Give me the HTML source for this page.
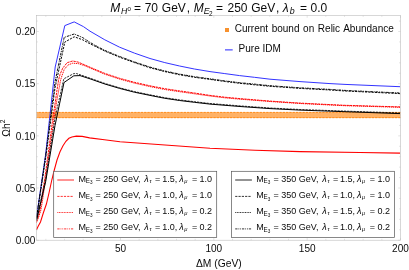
<!DOCTYPE html>
<html><head><meta charset="utf-8"><title>plot</title>
<style>
html,body{margin:0;padding:0;background:#fff;}
body{width:409px;height:270px;overflow:hidden;font-family:"Liberation Sans",sans-serif;}
svg{display:block;will-change:transform;}
text{font-family:"Liberation Sans",sans-serif;fill:#0a0a0a;}
.tk{font-size:10.05px;}
.lb{font-size:10.3px;}
.ti{font-size:12px;}
.lg{font-size:10px;}
.lg2{font-size:9.4px;}
</style></head><body>
<svg xmlns="http://www.w3.org/2000/svg" width="409" height="270" viewBox="0 0 409 270">
<rect x="36.5" y="112.2" width="364.0" height="5.8" fill="#FFB266"/>
<line x1="36.5" y1="112.4" x2="400.5" y2="112.4" stroke="#FF8000" stroke-width="0.8" stroke-dasharray="2.25,1.05" stroke-dashoffset="1.26"/>
<line x1="36.5" y1="117.7" x2="400.5" y2="117.7" stroke="#FF8000" stroke-width="0.8" stroke-dasharray="2.25,1.05" stroke-dashoffset="1.26"/>
<polyline points="36.5,217.5 45.7,154.0 55.2,67.0 64.8,25.6 74.2,21.9 83.4,26.6 90.0,31.2 104.8,39.8 119.6,47.2 134.4,53.1 150.0,58.5 164.8,62.6 179.6,66.0 194.4,69.0 210.0,71.6 224.8,73.6 239.6,75.6 254.4,77.3 270.0,79.2 300.0,81.6 330.0,83.6 345.0,84.4 400.0,86.7" fill="none" stroke="#2C2CFF" stroke-width="0.97"/>
<polyline points="36.5,217.8 45.7,155.0 55.0,82.0 64.2,37.4 74.2,34.0 82.7,37.6 90.0,42.4 96.0,45.8 104.8,50.4 119.6,56.5 134.4,61.9 150.0,67.1 164.8,71.0 179.6,74.1 194.4,76.7 210.0,78.8 224.8,80.9 239.6,82.7 254.4,84.1 270.0,85.7 300.0,87.8 330.0,89.4 345.0,90.4 400.0,93.0" fill="none" stroke="#000" stroke-width="0.95" stroke-dasharray="2.6,0.9,0.9,0.9"/>
<polyline points="36.5,218.6 45.7,158.0 55.0,88.0 64.8,42.1 74.2,36.8 82.7,39.8 90.0,43.8 96.0,46.7 104.8,51.1 119.6,57.2 134.4,62.6 150.0,67.8 164.8,71.6 179.6,74.8 194.4,77.3 210.0,79.4 224.8,81.5 239.6,83.3 254.4,84.8 270.0,86.3 300.0,88.4 330.0,90.0 345.0,91.0 400.0,93.6" fill="none" stroke="#000" stroke-width="0.95" stroke-dasharray="2.2,1.1"/>
<polyline points="36.5,221.6 38.2,217.0 40.0,210.0 41.6,200.0 43.0,190.0 44.6,180.0 47.3,160.0 50.0,140.0 52.6,120.0 55.0,104.0 57.0,90.0 58.6,80.0 60.0,74.5 62.7,68.2 67.1,62.7 72.7,61.0 78.2,62.1 90.0,67.2 104.8,73.4 119.6,78.3 134.4,82.3 150.0,85.8 164.8,88.7 179.6,90.9 194.4,93.0 210.0,95.4 224.8,97.2 240.0,98.6 270.0,101.1 300.0,103.1 330.0,104.6 345.0,105.3 400.0,106.9" fill="none" stroke="#FF0000" stroke-width="0.95" stroke-dasharray="2.4,0.8"/>
<polyline points="36.5,222.6 38.7,217.0 40.9,210.0 42.6,200.0 44.0,190.0 45.5,180.0 48.2,160.0 51.0,140.0 53.8,120.0 56.9,100.0 58.8,90.0 60.6,80.0 62.2,75.0 64.3,69.3 68.2,64.9 72.7,63.2 78.2,63.6 85.0,65.8 90.0,68.0 104.8,74.2 119.6,79.1 134.4,83.1 150.0,86.6 164.8,89.5 179.6,91.7 194.4,93.8 210.0,96.0 224.8,97.8 240.0,99.2 270.0,101.5 300.0,103.5 330.0,105.0 345.0,105.7 400.0,107.3" fill="none" stroke="#FF0000" stroke-width="0.95" stroke-dasharray="1.3,0.7"/>
<polyline points="36.5,219.5 45.7,178.5 55.0,118.0 63.8,78.8 73.8,73.6 76.6,73.6 82.0,75.4 90.0,78.2 104.8,83.4 119.6,87.8 134.4,91.6 150.0,94.8 164.8,97.7 179.6,99.9 194.4,101.7 210.0,103.5 240.0,105.9 270.0,108.0 300.0,109.5 345.0,111.1 400.0,113.0" fill="none" stroke="#000" stroke-width="0.8" stroke-dasharray="2.2,1"/>
<polyline points="36.5,220.5 45.7,181.5 55.0,125.5 64.0,82.5 73.8,75.8 80.0,75.6 90.0,78.8 104.8,84.0 119.6,88.4 134.4,92.2 150.0,95.4 164.8,98.3 179.6,100.5 194.4,102.3 210.0,104.1 240.0,106.5 270.0,108.6 300.0,110.1 345.0,111.7 400.0,113.6" fill="none" stroke="#000" stroke-width="1"/>
<polyline points="36.5,229.8 38.3,226.0 40.5,222.0 43.3,213.0 46.4,204.0 49.0,193.0 51.8,180.0 54.3,170.0 57.0,160.0 60.0,151.7 63.0,145.7 65.9,141.3 68.9,138.3 71.9,136.9 76.3,136.1 82.2,136.4 89.6,137.9 104.4,139.8 120.0,141.7 165.0,145.0 210.0,148.3 255.0,150.3 300.0,151.6 360.0,152.5 400.0,153.1" fill="none" stroke="#FF0000" stroke-width="1.08"/>
<rect x="36.5" y="15.5" width="364.0" height="224.7" fill="none" stroke="#bcbcbc" stroke-width="0.6"/>
<path d="M45.83,240.2v-1.4M45.83,15.5v1.4M64.50,240.2v-1.4M64.50,15.5v1.4M83.17,240.2v-1.4M83.17,15.5v1.4M101.83,240.2v-1.4M101.83,15.5v1.4M120.50,240.2v-2.3M120.50,15.5v2.3M139.17,240.2v-1.4M139.17,15.5v1.4M157.83,240.2v-1.4M157.83,15.5v1.4M176.50,240.2v-1.4M176.50,15.5v1.4M195.17,240.2v-1.4M195.17,15.5v1.4M213.84,240.2v-2.3M213.84,15.5v2.3M232.50,240.2v-1.4M232.50,15.5v1.4M251.17,240.2v-1.4M251.17,15.5v1.4M269.84,240.2v-1.4M269.84,15.5v1.4M288.50,240.2v-1.4M288.50,15.5v1.4M307.17,240.2v-2.3M307.17,15.5v2.3M325.84,240.2v-1.4M325.84,15.5v1.4M344.50,240.2v-1.4M344.50,15.5v1.4M363.17,240.2v-1.4M363.17,15.5v1.4M381.84,240.2v-1.4M381.84,15.5v1.4M400.50,240.2v-2.3M400.50,15.5v2.3M36.5,240.20h2.3M400.5,240.20h-2.3M36.5,229.76h1.4M400.5,229.76h-1.4M36.5,219.33h1.4M400.5,219.33h-1.4M36.5,208.89h1.4M400.5,208.89h-1.4M36.5,198.46h1.4M400.5,198.46h-1.4M36.5,188.02h2.3M400.5,188.02h-2.3M36.5,177.59h1.4M400.5,177.59h-1.4M36.5,167.15h1.4M400.5,167.15h-1.4M36.5,156.72h1.4M400.5,156.72h-1.4M36.5,146.28h1.4M400.5,146.28h-1.4M36.5,135.85h2.3M400.5,135.85h-2.3M36.5,125.41h1.4M400.5,125.41h-1.4M36.5,114.98h1.4M400.5,114.98h-1.4M36.5,104.54h1.4M400.5,104.54h-1.4M36.5,94.11h1.4M400.5,94.11h-1.4M36.5,83.67h2.3M400.5,83.67h-2.3M36.5,73.24h1.4M400.5,73.24h-1.4M36.5,62.80h1.4M400.5,62.80h-1.4M36.5,52.37h1.4M400.5,52.37h-1.4M36.5,41.93h1.4M400.5,41.93h-1.4M36.5,31.50h2.3M400.5,31.50h-2.3M36.5,21.06h1.4M400.5,21.06h-1.4" stroke="#bbb" stroke-width="0.4" fill="none"/>
<text x="120.5" y="251.5" text-anchor="middle" class="tk">50</text>
<text x="213.8" y="251.5" text-anchor="middle" class="tk">100</text>
<text x="307.2" y="251.5" text-anchor="middle" class="tk">150</text>
<text x="400.5" y="251.5" text-anchor="middle" class="tk">200</text>
<text x="35.4" y="243.8" text-anchor="end" class="tk">0.00</text>
<text x="35.4" y="191.7" text-anchor="end" class="tk">0.05</text>
<text x="35.4" y="139.5" text-anchor="end" class="tk">0.10</text>
<text x="35.4" y="87.3" text-anchor="end" class="tk">0.15</text>
<text x="35.4" y="35.1" text-anchor="end" class="tk">0.20</text>
<text x="218.8" y="267.4" text-anchor="middle" class="lb">ΔM (GeV)</text>
<text transform="translate(9.6,128.2) rotate(-90)" text-anchor="middle" class="lb">Ωh<tspan dy="-4.2" font-size="6.8">2</tspan></text>
<text x="110.3" y="11.5" font-size="12" font-style="italic">M</text>
<text x="120.9" y="13.7" font-size="8.8" font-style="italic">H</text>
<text x="127.4" y="11.0" font-size="6.1">0</text>
<text x="134.1" y="11.5" font-size="12">=</text>
<text x="144.7" y="11.5" font-size="12">70</text>
<text x="161.8" y="11.5" font-size="12">GeV</text>
<text x="186.7" y="11.5" font-size="12">,</text>
<text x="193.7" y="11.5" font-size="12" font-style="italic">M</text>
<text x="203.7" y="13.7" font-size="8.8" font-style="italic">E</text>
<text x="209.0" y="15.7" font-size="6.4">2</text>
<text x="216.0" y="11.5" font-size="12">=</text>
<text x="227.5" y="11.5" font-size="12">250</text>
<text x="251.2" y="11.5" font-size="12">GeV</text>
<text x="275.9" y="11.5" font-size="12">,</text>
<text x="282.7" y="11.5" font-size="12" font-style="italic">λ</text>
<text x="289.8" y="13.8" font-size="8.8" font-style="italic">b</text>
<text x="300.0" y="11.5" font-size="12">=</text>
<text x="310.6" y="11.5" font-size="12">0.0</text>
<rect x="225" y="28" width="4" height="4" fill="#F7912E"/>
<text x="234.7" y="31.7" class="lg" word-spacing="0.85">Current bound on Relic Abundance</text>
<line x1="225" y1="49.9" x2="232.7" y2="49.9" stroke="#2222FF" stroke-width="1"/>
<text x="238.6" y="51.5" class="lg">Pure IDM</text>
<rect x="53.7" y="171.3" width="163" height="66.3" fill="#fff" stroke="#555" stroke-width="0.7"/>
<line x1="57.3" y1="180.0" x2="74.0" y2="180.0" stroke="#FF0000" stroke-width="0.85"/>
<text x="78.45" y="181.8" font-size="9">M</text>
<text x="85.7" y="183.2" font-size="6.3">E</text>
<text x="89.9" y="184.3" font-size="4.6">3</text>
<text x="95.5" y="181.8" font-size="9">=</text>
<text x="103.3" y="181.8" font-size="9">250</text>
<text x="120.9" y="181.8" font-size="9">GeV,</text>
<text x="144.3" y="181.8" font-size="9" font-style="italic">λ</text>
<text x="149.5" y="182.8" font-size="5.8" font-style="italic">τ</text>
<text x="155.0" y="181.8" font-size="9">=</text>
<text x="162.2" y="181.8" font-size="9">1.5,</text>
<text x="179.2" y="181.8" font-size="9" font-style="italic">λ</text>
<text x="184.2" y="182.8" font-size="5.8" font-style="italic">μ</text>
<text x="191.9" y="181.8" font-size="9">=</text>
<text x="199.5" y="181.8" font-size="9">1.0</text>
<line x1="57.3" y1="196.4" x2="73.3" y2="196.4" stroke="#FF0000" stroke-width="0.8" stroke-dasharray="2.2,1.1"/>
<text x="78.45" y="197.9" font-size="9">M</text>
<text x="85.7" y="199.4" font-size="6.3">E</text>
<text x="89.9" y="200.5" font-size="4.6">3</text>
<text x="95.5" y="197.9" font-size="9">=</text>
<text x="103.3" y="197.9" font-size="9">250</text>
<text x="120.9" y="197.9" font-size="9">GeV,</text>
<text x="144.3" y="197.9" font-size="9" font-style="italic">λ</text>
<text x="149.5" y="199.0" font-size="5.8" font-style="italic">τ</text>
<text x="155.0" y="197.9" font-size="9">=</text>
<text x="162.2" y="197.9" font-size="9">1.0,</text>
<text x="179.2" y="197.9" font-size="9" font-style="italic">λ</text>
<text x="184.2" y="199.0" font-size="5.8" font-style="italic">μ</text>
<text x="191.9" y="197.9" font-size="9">=</text>
<text x="199.5" y="197.9" font-size="9">1.0</text>
<line x1="57.3" y1="212.5" x2="73.3" y2="212.5" stroke="#FF0000" stroke-width="0.8" stroke-dasharray="1,0.63"/>
<text x="78.45" y="214.1" font-size="9">M</text>
<text x="85.7" y="215.6" font-size="6.3">E</text>
<text x="89.9" y="216.7" font-size="4.6">3</text>
<text x="95.5" y="214.1" font-size="9">=</text>
<text x="103.3" y="214.1" font-size="9">250</text>
<text x="120.9" y="214.1" font-size="9">GeV,</text>
<text x="144.3" y="214.1" font-size="9" font-style="italic">λ</text>
<text x="149.5" y="215.2" font-size="5.8" font-style="italic">τ</text>
<text x="155.0" y="214.1" font-size="9">=</text>
<text x="162.2" y="214.1" font-size="9">1.5,</text>
<text x="179.2" y="214.1" font-size="9" font-style="italic">λ</text>
<text x="184.2" y="215.2" font-size="5.8" font-style="italic">μ</text>
<text x="191.9" y="214.1" font-size="9">=</text>
<text x="199.5" y="214.1" font-size="9">0.2</text>
<line x1="57.3" y1="228.9" x2="73.3" y2="228.9" stroke="#FF0000" stroke-width="0.8" stroke-dasharray="2.3,0.9,0.9,0.9,0.9,0.9"/>
<text x="78.45" y="230.2" font-size="9">M</text>
<text x="85.7" y="231.7" font-size="6.3">E</text>
<text x="89.9" y="232.8" font-size="4.6">3</text>
<text x="95.5" y="230.2" font-size="9">=</text>
<text x="103.3" y="230.2" font-size="9">250</text>
<text x="120.9" y="230.2" font-size="9">GeV,</text>
<text x="144.3" y="230.2" font-size="9" font-style="italic">λ</text>
<text x="149.5" y="231.3" font-size="5.8" font-style="italic">τ</text>
<text x="155.0" y="230.2" font-size="9">=</text>
<text x="162.2" y="230.2" font-size="9">1.0,</text>
<text x="179.2" y="230.2" font-size="9" font-style="italic">λ</text>
<text x="184.2" y="231.3" font-size="5.8" font-style="italic">μ</text>
<text x="191.9" y="230.2" font-size="9">=</text>
<text x="199.5" y="230.2" font-size="9">0.2</text>
<rect x="231.6" y="171.3" width="163" height="66.3" fill="#fff" stroke="#555" stroke-width="0.7"/>
<line x1="235.2" y1="180.0" x2="251.9" y2="180.0" stroke="#000" stroke-width="0.85"/>
<text x="256.35" y="181.8" font-size="9">M</text>
<text x="263.6" y="183.2" font-size="6.3">E</text>
<text x="267.8" y="184.3" font-size="4.6">3</text>
<text x="273.4" y="181.8" font-size="9">=</text>
<text x="281.2" y="181.8" font-size="9">350</text>
<text x="298.8" y="181.8" font-size="9">GeV,</text>
<text x="322.2" y="181.8" font-size="9" font-style="italic">λ</text>
<text x="327.4" y="182.8" font-size="5.8" font-style="italic">τ</text>
<text x="332.9" y="181.8" font-size="9">=</text>
<text x="340.1" y="181.8" font-size="9">1.5,</text>
<text x="357.1" y="181.8" font-size="9" font-style="italic">λ</text>
<text x="362.1" y="182.8" font-size="5.8" font-style="italic">μ</text>
<text x="369.8" y="181.8" font-size="9">=</text>
<text x="377.4" y="181.8" font-size="9">1.0</text>
<line x1="235.2" y1="196.4" x2="251.2" y2="196.4" stroke="#000" stroke-width="0.8" stroke-dasharray="2.2,1.1"/>
<text x="256.35" y="197.9" font-size="9">M</text>
<text x="263.6" y="199.4" font-size="6.3">E</text>
<text x="267.8" y="200.5" font-size="4.6">3</text>
<text x="273.4" y="197.9" font-size="9">=</text>
<text x="281.2" y="197.9" font-size="9">350</text>
<text x="298.8" y="197.9" font-size="9">GeV,</text>
<text x="322.2" y="197.9" font-size="9" font-style="italic">λ</text>
<text x="327.4" y="199.0" font-size="5.8" font-style="italic">τ</text>
<text x="332.9" y="197.9" font-size="9">=</text>
<text x="340.1" y="197.9" font-size="9">1.0,</text>
<text x="357.1" y="197.9" font-size="9" font-style="italic">λ</text>
<text x="362.1" y="199.0" font-size="5.8" font-style="italic">μ</text>
<text x="369.8" y="197.9" font-size="9">=</text>
<text x="377.4" y="197.9" font-size="9">1.0</text>
<line x1="235.2" y1="212.5" x2="251.2" y2="212.5" stroke="#000" stroke-width="0.8" stroke-dasharray="1,0.63"/>
<text x="256.35" y="214.1" font-size="9">M</text>
<text x="263.6" y="215.6" font-size="6.3">E</text>
<text x="267.8" y="216.7" font-size="4.6">3</text>
<text x="273.4" y="214.1" font-size="9">=</text>
<text x="281.2" y="214.1" font-size="9">350</text>
<text x="298.8" y="214.1" font-size="9">GeV,</text>
<text x="322.2" y="214.1" font-size="9" font-style="italic">λ</text>
<text x="327.4" y="215.2" font-size="5.8" font-style="italic">τ</text>
<text x="332.9" y="214.1" font-size="9">=</text>
<text x="340.1" y="214.1" font-size="9">1.5,</text>
<text x="357.1" y="214.1" font-size="9" font-style="italic">λ</text>
<text x="362.1" y="215.2" font-size="5.8" font-style="italic">μ</text>
<text x="369.8" y="214.1" font-size="9">=</text>
<text x="377.4" y="214.1" font-size="9">0.2</text>
<line x1="235.2" y1="228.9" x2="251.2" y2="228.9" stroke="#000" stroke-width="0.8" stroke-dasharray="2.3,0.9,0.9,0.9,0.9,0.9"/>
<text x="256.35" y="230.2" font-size="9">M</text>
<text x="263.6" y="231.7" font-size="6.3">E</text>
<text x="267.8" y="232.8" font-size="4.6">3</text>
<text x="273.4" y="230.2" font-size="9">=</text>
<text x="281.2" y="230.2" font-size="9">350</text>
<text x="298.8" y="230.2" font-size="9">GeV,</text>
<text x="322.2" y="230.2" font-size="9" font-style="italic">λ</text>
<text x="327.4" y="231.3" font-size="5.8" font-style="italic">τ</text>
<text x="332.9" y="230.2" font-size="9">=</text>
<text x="340.1" y="230.2" font-size="9">1.0,</text>
<text x="357.1" y="230.2" font-size="9" font-style="italic">λ</text>
<text x="362.1" y="231.3" font-size="5.8" font-style="italic">μ</text>
<text x="369.8" y="230.2" font-size="9">=</text>
<text x="377.4" y="230.2" font-size="9">0.2</text>
</svg>
</body></html>
